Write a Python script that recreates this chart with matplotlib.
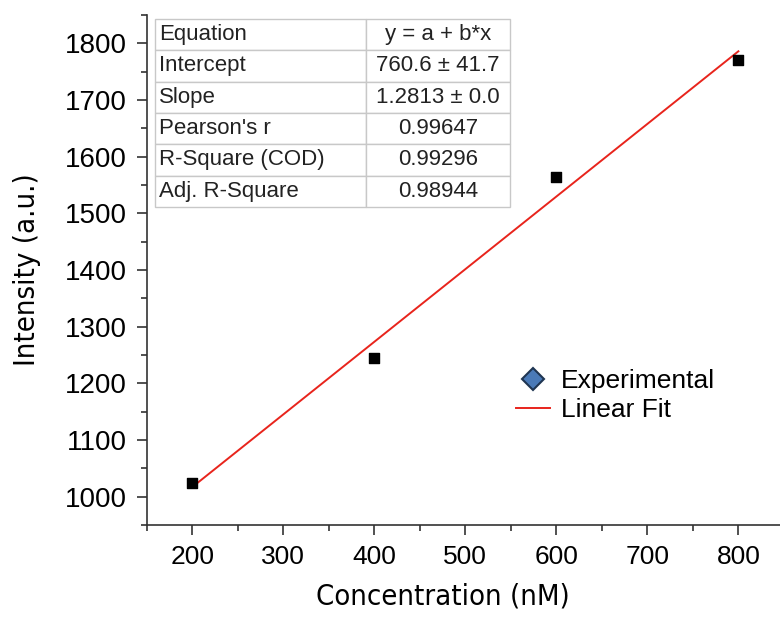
import matplotlib.pyplot as plt
from matplotlib.ticker import MultipleLocator
from matplotlib.lines import Line2D
import numpy as np

# data
conc = [200, 400, 600, 800]
intensity = [1025, 1244, 1564, 1771]

# fit results from the table
intercept = 760.6
slope = 1.2813
row_names = ["Equation", "Intercept", "Slope", "Pearson's r", "R-Square (COD)", "Adj. R-Square"]
row_values = ["y = a + b*x", "760.6 \u00b1 41.7", "1.2813 \u00b1 0.0", "0.99647", "0.99296", "0.98944"]

plt.rcParams['font.family'] = ['Liberation Sans', 'DejaVu Sans']

fig = plt.figure(figsize=(7.8, 6.17), dpi=100)
ax = fig.add_axes([0.188, 0.149, 0.817, 0.827])

fit_x = np.array([conc[0], conc[-1]])
fit_y = intercept + slope * fit_x
ax.plot(fit_x, fit_y, color='#e8241c', linewidth=1.4, zorder=2)
ax.scatter(conc, intensity, marker='s', s=50, color='black', zorder=3)

ax.set_xlim(150, 850)
ax.set_ylim(950, 1850)
ax.xaxis.set_major_locator(MultipleLocator(100))
ax.xaxis.set_minor_locator(MultipleLocator(50))
ax.yaxis.set_major_locator(MultipleLocator(100))
ax.yaxis.set_minor_locator(MultipleLocator(50))
ax.tick_params(which='major', direction='out', length=7, width=1.2, labelsize=19, color='#333333')
ax.tick_params(which='minor', direction='out', length=4, width=1.2, color='#333333')
ax.tick_params(axis='x', pad=7)
ax.tick_params(axis='y', pad=7, labelsize=20)
ax.set_xticks([200, 300, 400, 500, 600, 700, 800])
ax.spines['top'].set_visible(False)
ax.spines['right'].set_visible(False)
for s in ['left', 'bottom']:
    ax.spines[s].set_linewidth(1.2)
    ax.spines[s].set_color('#333333')

ax.set_xlabel("Concentration (nM)", fontsize=21, family='DejaVu Sans', fontstretch='condensed')
ax.set_ylabel("Intensity (a.u.)", fontsize=21, family='DejaVu Sans', fontstretch='condensed')
ax.xaxis.set_label_coords(0.465, -0.112)
ax.yaxis.set_label_coords(-0.166, 0.5)

# fit table
cells = [[n, v] for n, v in zip(row_names, row_values)]
tbl = ax.table(cellText=cells, colWidths=[0.593, 0.407],
               bbox=[0.0126, 0.6235, 0.558, 0.3685], zorder=4)
tbl.auto_set_font_size(False)
for (r, c), cell in tbl.get_celld().items():
    cell.set_edgecolor('#c8c8c8')
    cell.set_linewidth(1.0)
    cell.set_facecolor('white')
    cell.get_text().set_fontsize(16)
    cell.get_text().set_color('#222222')
    if c == 0:
        cell.get_text().set_ha('left')
        cell.PAD = 0.02
    else:
        cell.get_text().set_ha('center')

handles = [Line2D([], [], marker='D', linestyle='none', markersize=11,
                  markerfacecolor='#4a7ab8', markeredgecolor='#1f3552', markeredgewidth=1.5),
           Line2D([], [], color='#e8241c', linewidth=1.4)]
ax.legend(handles, ["Experimental", "Linear Fit"], loc='upper left',
          bbox_to_anchor=(0.542, 0.352), frameon=False,
          prop={'size': 19}, handlelength=1.3, handletextpad=0.4,
          labelspacing=0.2)

plt.savefig("out.png", dpi=100)
